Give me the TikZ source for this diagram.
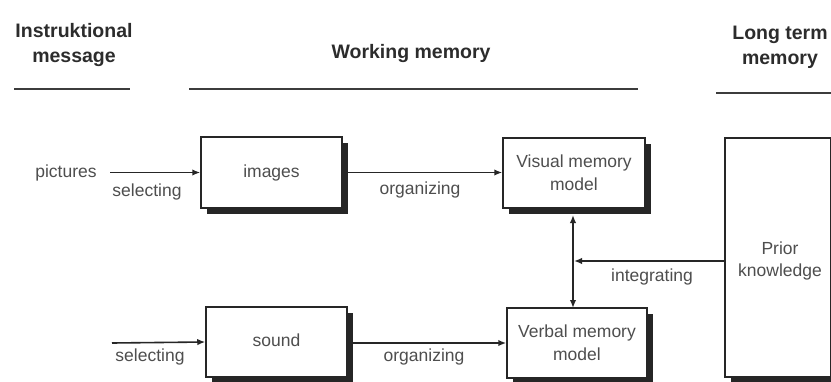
\documentclass[tikz,border=0pt]{standalone}
\usepackage{fontspec}
\setmainfont{Liberation Sans}
\usetikzlibrary{arrows.meta,shadows}
\definecolor{ink}{HTML}{262626}
\definecolor{txt}{HTML}{4E4E4E}
\definecolor{head}{HTML}{2C2C2C}
\begin{document}
\begin{tikzpicture}[x=1pt,y=-1pt,
  lbl/.style={text=txt, font=\fontsize{17.5}{23}\selectfont, inner sep=0pt, align=center},
  hdr/.style={text=head, font=\fontsize{19.5}{25}\selectfont\bfseries, inner sep=0pt, align=center},
  box/.style={draw=ink, line width=1.5pt, fill=white, inner sep=0pt, align=center,
    text=txt, font=\fontsize{17.5}{23}\selectfont,
    drop shadow={shadow xshift=6pt, shadow yshift=-6pt, opacity=1, fill=ink}},
  hline/.style={draw=ink!90, line width=2pt},
  conn/.style={draw=ink, line width=1.6pt, -{Latex[length=8pt,width=6.5pt]}},
  conn2/.style={draw=ink, line width=1.6pt, {Latex[length=8pt,width=6.5pt]}-{Latex[length=8pt,width=6.5pt]}}
]
\clip (0,0) rectangle (831,381);
\fill[white] (0,0) rectangle (831,381);

% headers
\node[hdr] (hinstr) at (74,45) {Instruktional\\message};
\node[hdr] (hwork) at (411,53) {Working memory};
\node[hdr] (hlong) at (780,47) {Long term\\memory};
\coordinate (l1a) at (14,89);  \coordinate (l1b) at (130,89);
\coordinate (l2a) at (189,89); \coordinate (l2b) at (638,89);
\coordinate (l3a) at (716,93); \coordinate (l3b) at (835,93);
\draw[hline] (l1a) -- (l1b);
\draw[hline] (l2a) -- (l2b);
\draw[hline] (l3a) -- (l3b);

% boxes
\node[box, minimum width=141pt, minimum height=71pt] (img) at (271.5,172.5) {images};
\node[box, minimum width=142pt, minimum height=70pt] (vis) at (574,173) {Visual memory\\model};
\node[box, minimum width=141pt, minimum height=70pt] (snd) at (276.5,342) {\raisebox{3pt}{sound}};
\node[box, minimum width=140pt, minimum height=70pt] (verb) at (577,343) {Verbal memory\\model};
\node[box, minimum width=106pt, minimum height=239pt] (prior) at (778,257.5) {};
\node[lbl, font=\fontsize{17.5}{22}\selectfont] (priortext) at (780,261) {Prior\\knowledge};

% labels
\node[lbl] (pic) at (66,173) {pictures};
\node[lbl] (sel1) at (147,192) {selecting};
\node[lbl] (org1) at (420,190) {organizing};
\node[lbl] (sel2) at (150,357) {selecting};
\node[lbl] (org2) at (424,357) {organizing};
\node[lbl] (integ) at (652,277) {integrating};

% connectors
\coordinate (picstart) at (110,172.5);
\coordinate (sndstart) at (112,343);
\coordinate (vtop) at (573,215);
\coordinate (vbot) at (573,308);
\coordinate (mid) at (574,261);
\draw[conn] (picstart) -- (img.west);
\draw[conn] (sndstart) -- (snd.west);
\draw[conn] (img.east) -- (img.east -| vis.west);
\draw[conn] (snd.east |- verb.west) -- (verb.west);
\draw[conn2] (vtop) -- (vbot);
\draw[conn] (prior.west |- mid) -- (mid);
\end{tikzpicture}
\end{document}
